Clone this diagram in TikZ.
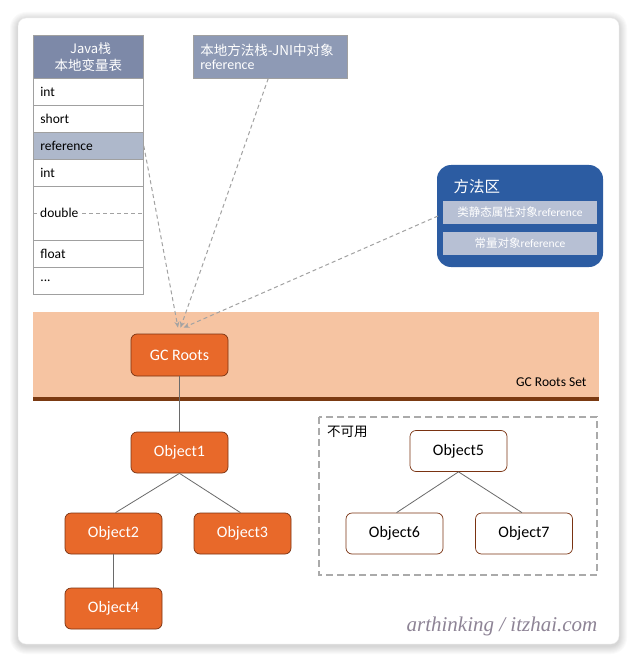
\documentclass[tikz,border=0pt]{standalone}
\usepackage{fontspec}
\setmainfont{Carlito}
\newfontfamily\cjk{Noto Sans CJK SC}
\newfontfamily\wmfont{Liberation Serif}
\usetikzlibrary{calc,arrows.meta}
\definecolor{orangeobj}{HTML}{E8692A}
\definecolor{darkbrown}{HTML}{7A3312}
\definecolor{peach}{HTML}{F6C4A2}
\definecolor{bandline}{HTML}{7B3A12}
\definecolor{hdrblue}{HTML}{7D89A8}
\definecolor{jniblue}{HTML}{8E9AB5}
\definecolor{refrow}{HTML}{AEB8CB}
\definecolor{rowline}{HTML}{A0A0A0}
\definecolor{mablue}{HTML}{2C5CA2}
\definecolor{masub}{HTML}{B7C0D4}
\definecolor{dashgray}{HTML}{A2A2A2}
\definecolor{boxgray}{HTML}{AAAAAA}
\definecolor{edgegray}{HTML}{6A6A6A}
\definecolor{wmcolor}{HTML}{8E8496}
\newcommand{\fs}[1]{\fontsize{#1}{#1}\selectfont}
\begin{document}
\begin{tikzpicture}[x=1pt,y=-1pt,
  rowbox/.style={draw=rowline, line width=0.8pt, fill=white, minimum height=27pt,
    text width=96pt, inner xsep=7pt, inner ysep=0pt, align=left, anchor=north west,
    font=\fs{13.5}},
  objbox/.style={rounded corners=6pt, minimum width=97pt, minimum height=41pt,
    inner sep=0pt, fill=orangeobj, draw=darkbrown, line width=0.7pt, text=white, font=\fs{16}},
  deadbox/.style={rounded corners=6pt, minimum width=97pt, minimum height=41pt,
    inner sep=0pt, fill=white, draw=darkbrown, line width=0.7pt, text=black, font=\fs{16}},
  edgeline/.style={draw=edgegray, line width=0.8pt},
  refline/.style={draw=dashgray, line width=1pt, dash pattern=on 4pt off 3pt,
    -{Stealth[length=6pt,width=5pt,fill=dashgray]}},
  masubbox/.style={fill=masub, minimum width=154pt, minimum height=23pt, inner sep=0pt,
    text=white, font=\fs{11.5}}
]
\useasboundingbox (0,0) rectangle (637,663);
\fill[white] (0,0) rectangle (637,663);
% card shadow
\foreach \i in {1,...,8}{
  \fill[black, opacity=0.018, rounded corners={8pt+\i pt}] ({18-\i},{18-\i+2}) rectangle ({619+\i},{644+\i+2});
}
\fill[white, draw=black!8, line width=0.4pt, rounded corners=8pt] (18,18) rectangle (619,644);

% Java stack table
\node[rowbox, fill=hdrblue, minimum height=43pt, align=center, text=white] (hdr) at (33,35)
  {{\cjk\fs{13} Java栈}\\[4pt]{\cjk\fs{13.5}本地变量表}};
\node[rowbox] (r1) at (33,78) {int};
\node[rowbox] (r2) at (33,105) {short};
\node[rowbox, fill=refrow] (rref) at (33,132) {reference};
\node[rowbox] (r4) at (33,159) {int};
\node[rowbox, minimum height=54pt] (rdbl) at (33,186) {};
\draw[draw=dashgray, line width=0.8pt, dash pattern=on 4pt off 3pt] (rdbl.west) -- (rdbl.east);
\node[fill=white, inner xsep=1pt, inner ysep=2pt, anchor=west, font=\fs{13.5}] (dbltxt) at (39,213) {double};
\node[rowbox] (r6) at (33,240) {float};
\node[rowbox] (r7) at (33,267) {...};

% JNI box
\node[fill=jniblue, draw=rowline, line width=0.5pt, anchor=north west, minimum width=154pt,
  minimum height=43pt, text width=140pt, inner xsep=7pt, inner ysep=3pt, align=left, text=white]
  (jni) at (193,35) {{\cjk\fs{13.5}本地方法栈-JNI中对象}\\[2pt]{\fs{14}reference}};

% Method area
\fill[mablue, rounded corners=14pt] (437,165) rectangle (603,267);
\node[text=white, anchor=west, font=\cjk\fs{15.5}] (matitle) at (450,187) {方法区};
\node[masubbox] (ma1) at (520,212.5) {{\cjk 类静态属性对象}reference};
\node[masubbox] (ma2) at (520,243.5) {{\cjk 常量对象}reference};
\coordinate (mastart) at (438,216);

% GC Roots set band
\fill[peach] (33,312) rectangle (599,397);
\fill[bandline] (33,397) rectangle (599,401);
\node[anchor=east, font=\fs{13.5}] (gcset) at (590,382) {GC Roots Set};

\node[objbox, minimum height=42pt] (gcr) at (179.5,355) {GC Roots};

% reference arrows
\draw[refline] (rref.east) -- ($(gcr.north)+(-1.5,-6)$);
\draw[refline] (jni.south) ++(-2,0) coordinate (jnis) -- ($(gcr.north)+(1,-6)$);
\draw[refline] (mastart) -- ($(gcr.north)+(4,-6)$);

% reachable objects
\node[objbox] (o1) at (179.5,452.5) {Object1};
\node[objbox] (o2) at (113.5,533.5) {Object2};
\node[objbox] (o3) at (242.5,533.5) {Object3};
\node[objbox] (o4) at (113.5,608.5) {Object4};
\draw[edgeline] (gcr.south) -- (o1.north);
\draw[edgeline] (o1.south) -- ($(o2.north)+(2,0)$);
\draw[edgeline] (o1.south) -- ($(o3.north)+(-2,0)$);
\draw[edgeline] (o2.south) -- (o4.north);

% unreachable
\draw[draw=boxgray, line width=1.6pt, dash pattern=on 7pt off 4pt] (319,417) rectangle (597,575);
\node[anchor=west, font=\cjk\fs{13.5}, inner sep=0pt] (unav) at (327,432) {不可用};
\node[deadbox] (o5) at (458.5,451) {Object5};
\node[deadbox] (o6) at (394.5,533.5) {Object6};
\node[deadbox] (o7) at (524,533.5) {Object7};
\draw[edgeline] (o5.south) -- ($(o6.north)+(2,0)$);
\draw[edgeline] (o5.south) -- ($(o7.north)+(-2,0)$);

% watermark
\node[text=wmcolor, font=\wmfont\itshape\fs{21}] (wm) at (502,626) {arthinking / itzhai.com};
\end{tikzpicture}
\end{document}
